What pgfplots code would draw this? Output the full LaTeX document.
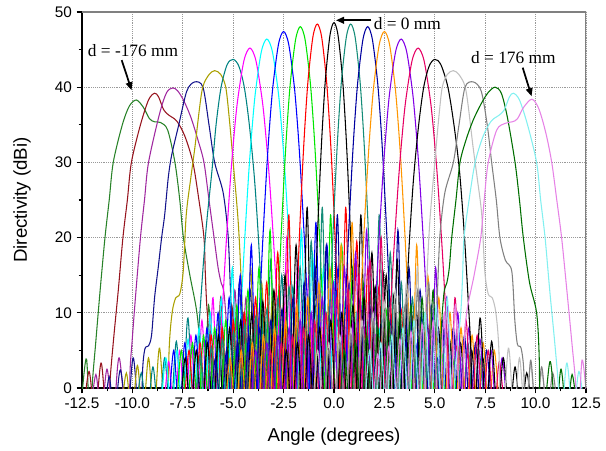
\documentclass[border=0pt]{standalone}
\usepackage{fontspec}
\setmainfont{Liberation Sans}
\newfontfamily\tnr{Liberation Serif}
\usepackage{pgfplots}
\pgfplotsset{compat=1.18}
\usetikzlibrary{calc,arrows.meta}

\definecolor{cA}{RGB}{40,130,40}
\definecolor{cB}{RGB}{150,20,30}
\definecolor{cC}{RGB}{160,40,160}
\definecolor{cD}{RGB}{20,20,140}
\definecolor{cE}{RGB}{170,160,0}
\definecolor{cF}{RGB}{0,130,130}
\definecolor{cG}{RGB}{255,0,255}
\definecolor{cH}{RGB}{0,255,255}
\definecolor{cI}{RGB}{0,0,255}
\definecolor{cJ}{RGB}{0,230,0}
\definecolor{cK}{RGB}{255,0,0}
\definecolor{cM}{RGB}{20,140,120}
\definecolor{cN}{RGB}{0,0,160}
\definecolor{cO}{RGB}{255,150,0}
\definecolor{cP}{RGB}{130,0,230}
\definecolor{cQ}{RGB}{230,0,100}
\definecolor{cS}{RGB}{192,192,192}
\definecolor{cT}{RGB}{128,128,128}
\definecolor{cU}{RGB}{0,110,0}
\definecolor{cV}{RGB}{130,240,240}
\definecolor{cW}{RGB}{230,130,230}

\begin{document}
\begin{tikzpicture}
\begin{axis}[
    width=378pt, height=282pt, scale only axis,
    xmin=-12.5, xmax=12.5, ymin=0, ymax=50,
    xtick={-12.5,-10,...,12.5}, ytick={0,10,...,50},
    minor x tick num=1, minor y tick num=1,
    axis lines*=left, tick align=outside,
    major tick length=4pt, minor tick length=2.5pt,
    axis line style={line width=1.1pt},
    every tick/.style={black, line width=0.8pt},
    grid=major,
    major grid style={densely dotted, gray!80, line width=0.5pt},
    xticklabel style={/pgf/number format/.cd, fixed, fixed zerofill, precision=1},
    /pgf/number format/assume math mode=true,
    tick label style={font=\fontsize{11.5}{13}\selectfont},
    label style={font=\fontsize{14}{16}\selectfont},
    xlabel={Angle (degrees)}, ylabel={Directivity (dBi)},
    xlabel style={at={(axis description cs:0.5,-0.13)}, anchor=center},
    ylabel style={at={(axis description cs:-0.119,0.5)}, anchor=center},
    every axis plot/.append style={smooth, tension=0.5, line width=0.8pt, mark=none},
]

% d = -176 mm
\addplot[cA] coordinates {(-2.1,-4)(-2.37,4.5)(-2.65,-4)(-2.92,5.5)(-3.2,-4)(-3.47,6.5)(-3.75,-4)(-4.02,7.5)(-4.3,-4)(-4.57,8.5)(-4.85,-4)(-5.12,9)(-5.4,-4)(-5.67,10)(-5.95,-5)(-6.22,11)(-6.5,-8)(-6.62,4)(-6.8,10)(-7.15,15)(-7.47,20)(-7.65,25)(-7.89,30)(-8.25,34.3)(-8.6,35.3)(-8.9,35.4)(-9.15,35.8)(-9.45,37.3)(-9.8,38.3)(-10.15,37.5)(-10.5,35)(-10.95,30)(-11.15,25)(-11.36,20)(-11.6,13)(-11.82,6)(-12.0,0)(-12.08,-8)(-12.27,3.8)(-12.5,-1)};
\addplot[cB] coordinates {(-1.5,-4)(-1.77,5)(-2.05,-4)(-2.32,6)(-2.6,-4)(-2.87,7)(-3.15,-4)(-3.42,8)(-3.7,-4)(-3.97,9)(-4.25,-4)(-4.52,10)(-4.8,-4)(-5.07,11)(-5.35,-5)(-5.62,12)(-5.9,-8)(-6.0,2)(-6.15,6)(-6.3,10.5)(-6.38,15)(-6.45,20)(-6.7,25)(-7.0,30)(-7.4,33.5)(-7.8,35.5)(-8.2,36.3)(-8.45,37)(-8.7,38.7)(-8.9,39.2)(-9.2,38.3)(-9.6,35)(-10.05,30)(-10.25,25)(-10.47,20)(-10.7,13)(-10.95,6)(-11.13,0)(-11.2,-8)(-11.54,3.3)(-11.85,-4)(-12.15,2.2)(-12.45,-4)};
\addplot[cC] coordinates {(-0.25,-4)(-0.52,5)(-0.8,-4)(-1.07,6)(-1.35,-4)(-1.62,7)(-1.9,-4)(-2.17,8)(-2.45,-4)(-2.72,9)(-3.0,-4)(-3.27,10)(-3.55,-4)(-3.82,11)(-4.1,-4)(-4.37,12)(-4.65,-5)(-4.92,13)(-5.2,-10)(-5.3,6)(-5.45,12.5)(-5.6,14)(-5.75,16)(-5.95,20)(-6.2,25)(-6.45,30)(-6.75,33)(-7.1,36)(-7.45,38.2)(-7.75,39.5)(-7.99,39.9)(-8.3,39.3)(-8.65,36.5)(-9.2,30)(-9.4,25)(-9.6,20)(-9.85,12)(-10.02,6)(-10.12,2)(-10.2,-8)(-10.65,4)(-10.95,-4)(-11.26,2.5)(-11.55,-4)(-11.81,1.8)(-12.1,-4)};
\addplot[cD] coordinates {(0.52,-4)(0.25,5)(-0.03,-4)(-0.3,6)(-0.58,-4)(-0.85,7)(-1.13,-4)(-1.4,8)(-1.68,-4)(-1.95,9)(-2.23,-4)(-2.5,10)(-2.78,-4)(-3.05,11)(-3.33,-4)(-3.6,12)(-3.88,-4)(-4.15,13)(-4.43,-5)(-4.7,14)(-4.98,-10)(-5.05,6)(-5.15,14)(-5.26,20.5)(-5.5,26)(-5.92,30)(-6.2,35)(-6.5,40)(-6.91,40.7)(-7.3,39.5)(-7.7,35)(-8.05,31)(-8.22,28)(-8.4,23)(-8.55,20)(-8.72,16)(-8.9,12)(-9.05,7)(-9.2,5.6)(-9.38,5.2)(-9.5,2)(-9.58,-8)(-9.95,4)(-10.25,-4)(-10.6,2.4)(-10.9,-4)(-11.15,1.5)(-11.4,-4)};
\addplot[cE] coordinates {(1.08,-4)(0.81,5)(0.53,-4)(0.26,6)(-0.02,-4)(-0.29,7)(-0.57,-4)(-0.84,8)(-1.12,-4)(-1.39,9)(-1.67,-4)(-1.94,10)(-2.22,-4)(-2.49,11.5)(-2.77,-4)(-3.04,13)(-3.32,-4)(-3.59,14)(-3.87,-5)(-4.14,16)(-4.42,-10)(-4.5,5)(-4.6,14)(-4.75,22)(-5.0,30)(-5.2,36)(-5.37,40)(-5.62,41.7)(-5.92,42.2)(-6.22,41.6)(-6.55,39.5)(-6.9,32)(-7.1,28)(-7.33,23)(-7.48,15.5)(-7.65,12.5)(-7.85,12)(-8.03,10)(-8.18,5)(-8.3,-8)(-8.65,5.3)(-8.93,-4)(-9.2,4)(-9.48,-4)(-9.75,3)(-10.03,-4)(-10.3,2)(-10.58,-4)};
\addplot[cF] coordinates {(2.63,-4)(2.36,5)(2.08,-4)(1.81,6)(1.53,-4)(1.26,7)(0.98,-4)(0.71,8)(0.43,-4)(0.16,9)(-0.12,-4)(-0.39,10)(-0.67,-4)(-0.94,11)(-1.22,-4)(-1.49,12)(-1.77,-4)(-2.04,13.5)(-2.32,-4)(-2.59,15)(-2.87,-5)(-3.14,17)(-3.42,-10)(-3.5,4)(-3.6,12)(-3.75,20)(-3.95,28)(-4.2,35)(-4.45,40)(-4.72,42.8)(-5.0,43.7)(-5.3,43.0)(-5.6,40)(-5.85,35)(-6.05,29)(-6.35,21)(-6.6,12)(-6.78,4)(-6.9,-10)(-7.24,9.3)(-7.53,-4)(-7.82,6.2)(-8.11,-4)(-8.4,4.0)(-8.69,-4)(-8.98,2.8)(-9.27,-4)(-9.56,2)(-9.85,-4)};
\addplot[cG] coordinates {(3.43,-4)(3.16,5)(2.88,-4)(2.61,6)(2.33,-4)(2.06,7)(1.78,-4)(1.51,8)(1.23,-4)(0.96,9)(0.68,-4)(0.41,10)(0.13,-4)(-0.14,12)(-0.42,-4)(-0.69,13)(-0.97,-4)(-1.24,15)(-1.52,-4)(-1.79,17)(-2.07,-5)(-2.34,20)(-2.6,-10)(-2.67,3.2)(-2.82,11.2)(-2.97,18.3)(-3.18,26.9)(-3.345,32.5)(-3.547,38.0)(-3.87,43.5)(-4.17,45.2)(-4.47,43.5)(-4.793,38.0)(-4.995,32.5)(-5.16,26.9)(-5.37,18.3)(-5.52,11.2)(-5.67,3.2)(-5.74,-10)(-6.0,12)(-6.27,-4)(-6.55,9)(-6.82,-4)(-7.1,7)(-7.37,-4)(-7.65,5)(-7.92,-4)(-8.2,3.5)(-8.47,-4)};
\addplot[cH] coordinates {(4.15,-4)(3.88,5)(3.6,-4)(3.33,6)(3.05,-4)(2.78,7)(2.5,-4)(2.23,8)(1.95,-4)(1.68,9)(1.4,-4)(1.13,10)(0.85,-4)(0.58,12)(0.3,-4)(0.03,14)(-0.25,-4)(-0.52,16)(-0.8,-4)(-1.07,18)(-1.35,-5)(-1.62,21)(-1.88,-10)(-1.95,4.4)(-2.088,12.4)(-2.226,19.5)(-2.419,28.1)(-2.571,33.7)(-2.757,39.2)(-3.054,44.7)(-3.33,46.4)(-3.606,44.7)(-3.903,39.2)(-4.089,33.7)(-4.241,28.1)(-4.434,19.5)(-4.572,12.4)(-4.71,4.4)(-4.78,-10)(-5.04,16)(-5.31,-5)(-5.59,12)(-5.86,-4)(-6.14,10)(-6.41,-4)(-6.69,8)(-6.96,-4)(-7.24,6.5)(-7.51,-4)(-7.79,5)(-8.06,-4)(-8.34,4)(-8.61,-4)};
\addplot[cI] coordinates {(5.42,-4)(5.15,4)(4.87,-4)(4.6,5)(4.32,-4)(4.05,6)(3.77,-4)(3.5,7)(3.22,-4)(2.95,8)(2.67,-4)(2.4,9)(2.12,-4)(1.85,11)(1.57,-4)(1.3,12)(1.02,-4)(0.75,14)(0.47,-4)(0.2,16)(-0.08,-4)(-0.35,19)(-0.63,-5)(-0.9,22)(-1.16,-10)(-1.23,5.4)(-1.357,13.4)(-1.484,20.5)(-1.662,29.1)(-1.801,34.7)(-1.973,40.2)(-2.246,45.7)(-2.5,47.4)(-2.754,45.7)(-3.027,40.2)(-3.199,34.7)(-3.338,29.1)(-3.516,20.5)(-3.643,13.4)(-3.77,5.4)(-3.84,-10)(-4.1,19)(-4.37,-5)(-4.65,15)(-4.92,-4)(-5.2,12)(-5.47,-4)(-5.75,10)(-6.02,-4)(-6.3,8)(-6.57,-4)(-6.85,7)(-7.12,-4)(-7.4,6)(-7.67,-4)(-7.95,5)(-8.22,-4)};
\addplot[cJ] coordinates {(6.15,-4)(5.88,4)(5.6,-4)(5.33,5)(5.05,-4)(4.78,6)(4.5,-4)(4.23,7)(3.95,-4)(3.68,8)(3.4,-4)(3.13,9)(2.85,-4)(2.58,10.5)(2.3,-4)(2.03,12)(1.75,-4)(1.48,14)(1.2,-4)(0.93,16)(0.65,-4)(0.38,19)(0.1,-5)(-0.17,23)(-0.43,-10)(-0.5,6.05)(-0.617,14.05)(-0.734,21.15)(-0.898,29.75)(-1.026,35.35)(-1.184,40.85)(-1.436,46.35)(-1.67,48.05)(-1.904,46.35)(-2.156,40.85)(-2.314,35.35)(-2.442,29.75)(-2.606,21.15)(-2.723,14.05)(-2.84,6.05)(-2.91,-10)(-3.17,21)(-3.44,-5)(-3.72,16)(-3.99,-4)(-4.27,13)(-4.54,-4)(-4.82,11)(-5.09,-4)(-5.37,9)(-5.64,-4)(-5.92,8)(-6.19,-4)(-6.47,7)(-6.74,-4)(-7.02,6)(-7.29,-4)(-7.57,5)(-7.84,-4)};
\addplot[cK] coordinates {(6.9,-4)(6.63,4.5)(6.35,-4)(6.08,5.5)(5.8,-4)(5.53,6.5)(5.25,-4)(4.98,7.5)(4.7,-4)(4.43,8.5)(4.15,-4)(3.88,9.5)(3.6,-4)(3.33,10.5)(3.05,-4)(2.78,12)(2.5,-4)(2.23,13.5)(1.95,-4)(1.68,16)(1.4,-4)(1.13,19.5)(0.85,-5)(0.58,24)(0.32,-10)(0.25,6.4)(0.142,14.4)(0.034,21.5)(-0.117,30.1)(-0.236,35.7)(-0.382,41.2)(-0.614,46.7)(-0.83,48.4)(-1.046,46.7)(-1.278,41.2)(-1.424,35.7)(-1.543,30.1)(-1.694,21.5)(-1.802,14.4)(-1.91,6.4)(-1.98,-10)(-2.24,23)(-2.51,-5)(-2.79,18)(-3.06,-4)(-3.34,14)(-3.61,-4)(-3.89,12)(-4.16,-4)(-4.44,10)(-4.71,-4)(-4.99,9)(-5.26,-4)(-5.54,8)(-5.81,-4)(-6.09,7)(-6.36,-4)(-6.64,6)(-6.91,-4)(-7.19,5)(-7.46,-4)};
% d = 0 mm
\addplot[black] coordinates {(-7.65,-4)(-7.38,4)(-7.1,-4)(-6.83,5)(-6.55,-4)(-6.28,6)(-6.0,-4)(-5.73,7)(-5.45,-4)(-5.18,8)(-4.9,-4)(-4.63,9)(-4.35,-4)(-4.08,10)(-3.8,-4)(-3.53,11.5)(-3.25,-4)(-2.98,13)(-2.7,-4)(-2.43,15)(-2.15,-4)(-1.88,19)(-1.6,-5)(-1.33,24)(-1.07,-10)(-1.0,6.6)(-0.9,14.6)(-0.8,21.7)(-0.66,30.3)(-0.55,35.9)(-0.415,41.4)(-0.2,46.9)(0,48.6)(0.2,46.9)(0.415,41.4)(0.55,35.9)(0.66,30.3)(0.8,21.7)(0.9,14.6)(1.0,6.6)(1.07,-10)(1.33,23)(1.6,-5)(1.88,18)(2.15,-4)(2.43,15.5)(2.7,-4)(2.98,12.5)(3.25,-4)(3.53,11)(3.8,-4)(4.08,10.5)(4.35,-4)(4.63,8.5)(4.9,-4)(5.18,8)(5.45,-4)(5.73,6.5)(6.0,-4)(6.28,6)(6.55,-4)(6.83,5)(7.1,-4)(7.38,4)(7.65,-4)};
\addplot[cM] coordinates {(-6.9,-4)(-6.63,4.5)(-6.35,-4)(-6.08,5.5)(-5.8,-4)(-5.53,6.5)(-5.25,-4)(-4.98,7.5)(-4.7,-4)(-4.43,8.5)(-4.15,-4)(-3.88,9.5)(-3.6,-4)(-3.33,10.5)(-3.05,-4)(-2.78,12)(-2.5,-4)(-2.23,13.5)(-1.95,-4)(-1.68,16)(-1.4,-4)(-1.13,19.5)(-0.85,-5)(-0.58,24)(-0.32,-10)(-0.25,6.4)(-0.142,14.4)(-0.034,21.5)(0.117,30.1)(0.236,35.7)(0.382,41.2)(0.614,46.7)(0.83,48.4)(1.046,46.7)(1.278,41.2)(1.424,35.7)(1.543,30.1)(1.694,21.5)(1.802,14.4)(1.91,6.4)(1.98,-10)(2.24,23)(2.51,-5)(2.79,18)(3.06,-4)(3.34,14)(3.61,-4)(3.89,12)(4.16,-4)(4.44,10)(4.71,-4)(4.99,9)(5.26,-4)(5.54,8)(5.81,-4)(6.09,7)(6.36,-4)(6.64,6)(6.91,-4)(7.19,5)(7.46,-4)};
\addplot[cN] coordinates {(-6.15,-4)(-5.88,4)(-5.6,-4)(-5.33,5)(-5.05,-4)(-4.78,6)(-4.5,-4)(-4.23,7)(-3.95,-4)(-3.68,8)(-3.4,-4)(-3.13,9)(-2.85,-4)(-2.58,10.5)(-2.3,-4)(-2.03,12)(-1.75,-4)(-1.48,14)(-1.2,-4)(-0.93,16)(-0.65,-4)(-0.38,19)(-0.1,-5)(0.17,23)(0.43,-10)(0.5,6.05)(0.617,14.05)(0.734,21.15)(0.898,29.75)(1.026,35.35)(1.184,40.85)(1.436,46.35)(1.67,48.05)(1.904,46.35)(2.156,40.85)(2.314,35.35)(2.442,29.75)(2.606,21.15)(2.723,14.05)(2.84,6.05)(2.91,-10)(3.17,21)(3.44,-5)(3.72,16)(3.99,-4)(4.27,13)(4.54,-4)(4.82,11)(5.09,-4)(5.37,9)(5.64,-4)(5.92,8)(6.19,-4)(6.47,7)(6.74,-4)(7.02,6)(7.29,-4)(7.57,5)(7.84,-4)};
\addplot[cO] coordinates {(-5.42,-4)(-5.15,4)(-4.87,-4)(-4.6,5)(-4.32,-4)(-4.05,6)(-3.77,-4)(-3.5,7)(-3.22,-4)(-2.95,8)(-2.67,-4)(-2.4,9)(-2.12,-4)(-1.85,11)(-1.57,-4)(-1.3,12)(-1.02,-4)(-0.75,14)(-0.47,-4)(-0.2,16)(0.08,-4)(0.35,19)(0.63,-5)(0.9,22)(1.16,-10)(1.23,5.4)(1.357,13.4)(1.484,20.5)(1.662,29.1)(1.801,34.7)(1.973,40.2)(2.246,45.7)(2.5,47.4)(2.754,45.7)(3.027,40.2)(3.199,34.7)(3.338,29.1)(3.516,20.5)(3.643,13.4)(3.77,5.4)(3.84,-10)(4.1,19)(4.37,-5)(4.65,15)(4.92,-4)(5.2,12)(5.47,-4)(5.75,10)(6.02,-4)(6.3,8)(6.57,-4)(6.85,7)(7.12,-4)(7.4,6)(7.67,-4)(7.95,5)(8.22,-4)};
\addplot[cP] coordinates {(-4.15,-4)(-3.88,5)(-3.6,-4)(-3.33,6)(-3.05,-4)(-2.78,7)(-2.5,-4)(-2.23,8)(-1.95,-4)(-1.68,9)(-1.4,-4)(-1.13,10)(-0.85,-4)(-0.58,12)(-0.3,-4)(-0.03,14)(0.25,-4)(0.52,16)(0.8,-4)(1.07,18)(1.35,-5)(1.62,21)(1.88,-10)(1.95,4.4)(2.088,12.4)(2.226,19.5)(2.419,28.1)(2.571,33.7)(2.757,39.2)(3.054,44.7)(3.33,46.4)(3.606,44.7)(3.903,39.2)(4.089,33.7)(4.241,28.1)(4.434,19.5)(4.572,12.4)(4.71,4.4)(4.78,-10)(5.04,16)(5.31,-5)(5.59,12)(5.86,-4)(6.14,10)(6.41,-4)(6.69,8)(6.96,-4)(7.24,6.5)(7.51,-4)(7.79,5)(8.06,-4)(8.34,4)(8.61,-4)};
\addplot[cQ] coordinates {(-3.43,-4)(-3.16,5)(-2.88,-4)(-2.61,6)(-2.33,-4)(-2.06,7)(-1.78,-4)(-1.51,8)(-1.23,-4)(-0.96,9)(-0.68,-4)(-0.41,10)(-0.13,-4)(0.14,12)(0.42,-4)(0.69,13)(0.97,-4)(1.24,15)(1.52,-4)(1.79,17)(2.07,-5)(2.34,20)(2.6,-10)(2.67,3.2)(2.82,11.2)(2.97,18.3)(3.18,26.9)(3.345,32.5)(3.547,38.0)(3.87,43.5)(4.17,45.2)(4.47,43.5)(4.793,38.0)(4.995,32.5)(5.16,26.9)(5.37,18.3)(5.52,11.2)(5.67,3.2)(5.74,-10)(6.0,12)(6.27,-4)(6.55,9)(6.82,-4)(7.1,7)(7.37,-4)(7.65,5)(7.92,-4)(8.2,3.5)(8.47,-4)};
\addplot[black] coordinates {(-2.63,-4)(-2.36,5)(-2.08,-4)(-1.81,6)(-1.53,-4)(-1.26,7)(-0.98,-4)(-0.71,8)(-0.43,-4)(-0.16,9)(0.12,-4)(0.39,10)(0.67,-4)(0.94,11)(1.22,-4)(1.49,12)(1.77,-4)(2.04,13.5)(2.32,-4)(2.59,15)(2.87,-5)(3.14,17)(3.42,-10)(3.5,4)(3.6,12)(3.75,20)(3.95,28)(4.2,35)(4.45,40)(4.72,42.8)(5.0,43.7)(5.3,43.0)(5.65,40)(5.95,35)(6.22,29)(6.45,21)(6.65,12)(6.8,4)(6.9,-10)(7.24,9.3)(7.53,-4)(7.82,6.2)(8.11,-4)(8.4,4.0)(8.69,-4)(8.98,2.8)(9.27,-4)(9.56,2)(9.85,-4)};
\addplot[cS] coordinates {(-1.08,-4)(-0.81,5)(-0.53,-4)(-0.26,6)(0.02,-4)(0.29,7)(0.57,-4)(0.84,8)(1.12,-4)(1.39,9)(1.67,-4)(1.94,10)(2.22,-4)(2.49,11.5)(2.77,-4)(3.04,13)(3.32,-4)(3.59,14)(3.87,-5)(4.14,16)(4.42,-10)(4.5,5)(4.6,14)(4.75,22)(5.0,30)(5.2,36)(5.37,40)(5.62,41.7)(5.92,42.2)(6.22,41.6)(6.55,39.5)(6.9,32)(7.1,28)(7.33,23)(7.48,15.5)(7.65,12.5)(7.85,12)(8.03,10)(8.18,5)(8.3,-8)(8.65,5.3)(8.93,-4)(9.2,4)(9.48,-4)(9.75,3)(10.03,-4)(10.3,2)(10.58,-4)};
\addplot[cT] coordinates {(-0.52,-4)(-0.25,5)(0.03,-4)(0.3,6)(0.58,-4)(0.85,7)(1.13,-4)(1.4,8)(1.68,-4)(1.95,9)(2.23,-4)(2.5,10)(2.78,-4)(3.05,11)(3.33,-4)(3.6,12)(3.88,-4)(4.15,13)(4.43,-5)(4.7,14)(4.98,-10)(5.05,6)(5.15,14)(5.26,20.5)(5.5,26)(5.92,30)(6.2,35)(6.5,40)(6.91,40.7)(7.3,39.5)(7.6,35)(7.82,30)(8.05,25)(8.23,20)(8.5,17)(8.82,15.5)(8.97,9)(9.1,5.8)(9.28,5.3)(9.42,2)(9.5,-8)(9.75,3.7)(10.02,-4)(10.3,2.8)(10.57,-4)(10.85,2)(11.12,-4)};
\addplot[cU] coordinates {(0.25,-4)(0.52,5)(0.8,-4)(1.07,6)(1.35,-4)(1.62,7)(1.9,-4)(2.17,8)(2.45,-4)(2.72,9)(3.0,-4)(3.27,10)(3.55,-4)(3.82,11)(4.1,-4)(4.37,12)(4.65,-5)(4.92,13)(5.2,-10)(5.3,6)(5.45,12.5)(5.6,14)(5.72,16)(5.84,20)(6.05,25)(6.25,30)(6.55,33)(6.9,35.6)(7.3,37.8)(7.65,39.3)(7.99,40.0)(8.3,39.2)(8.6,36)(8.98,30)(9.2,25)(9.39,20)(9.7,14)(10.05,10)(10.18,4)(10.26,-8)(10.71,3.5)(11.0,-4)(11.26,2.5)(11.55,-4)(11.81,1.8)(12.1,-4)};
\addplot[cV] coordinates {(1.5,-4)(1.77,5)(2.05,-4)(2.32,6)(2.6,-4)(2.87,7)(3.15,-4)(3.42,8)(3.7,-4)(3.97,9)(4.25,-4)(4.52,10)(4.8,-4)(5.07,11)(5.35,-5)(5.62,12)(5.9,-8)(6.0,2)(6.15,6)(6.3,10.5)(6.38,15)(6.45,20)(6.7,25)(7.0,30)(7.4,33.5)(7.8,35.5)(8.2,36.3)(8.45,37)(8.7,38.7)(8.9,39.2)(9.2,38.3)(9.6,35)(10.05,30)(10.25,25)(10.47,20)(10.7,13)(10.95,6)(11.13,0)(11.2,-8)(11.54,3.3)(11.85,-4)(12.15,2.2)(12.45,-4)};
% d = 176 mm
\addplot[cW] coordinates {(1.9,-4)(2.17,4.5)(2.45,-4)(2.72,5.5)(3.0,-4)(3.27,6.5)(3.55,-4)(3.82,7.5)(4.1,-4)(4.37,8.5)(4.65,-4)(4.92,9)(5.2,-4)(5.47,10)(5.75,-5)(6.02,11)(6.3,-8)(6.42,4)(6.58,10)(6.95,15)(7.28,20)(7.45,25)(7.65,30)(8.07,34.3)(8.5,35.2)(8.85,35.4)(9.1,35.8)(9.4,37.3)(9.81,38.4)(10.15,37.2)(10.5,34)(10.8,30)(11.05,25)(11.29,20)(11.55,13)(11.8,6)(12.0,0)(12.08,-8)(12.3,3.7)(12.55,-2)};

% frame on the top and right
\draw[gray, line width=0.8pt] (rel axis cs:0,1) -- (rel axis cs:1,1) -- (rel axis cs:1,0);

% annotations
\node[font=\tnr\fontsize{13}{15}\selectfont] at (axis cs:-9.97,44.9) {d = -176 mm};
\draw[-{Triangle[length=6pt,width=5pt]}, line width=1.3pt] (axis cs:-10.53,43.6) -- (axis cs:-10.04,39.6);
\node[font=\tnr\fontsize{13}{15}\selectfont] at (axis cs:3.64,48.4) {d = 0 mm};
\draw[-{Triangle[length=6pt,width=5pt]}, line width=1.3pt] (axis cs:1.85,48.9) -- (axis cs:0.1,48.9);
\node[font=\tnr\fontsize{13}{15}\selectfont] at (axis cs:8.9,43.95) {d = 176 mm};
\draw[-{Triangle[length=6pt,width=5pt]}, line width=1.3pt] (axis cs:9.36,42.6) -- (axis cs:9.8,38.8);
\end{axis}
\pgfresetboundingbox
\path ($(current axis.south west)+(-61.5pt,-46.5pt)$) rectangle ($(current axis.north east)+(15pt,9pt)$);
\end{tikzpicture}
\end{document}
